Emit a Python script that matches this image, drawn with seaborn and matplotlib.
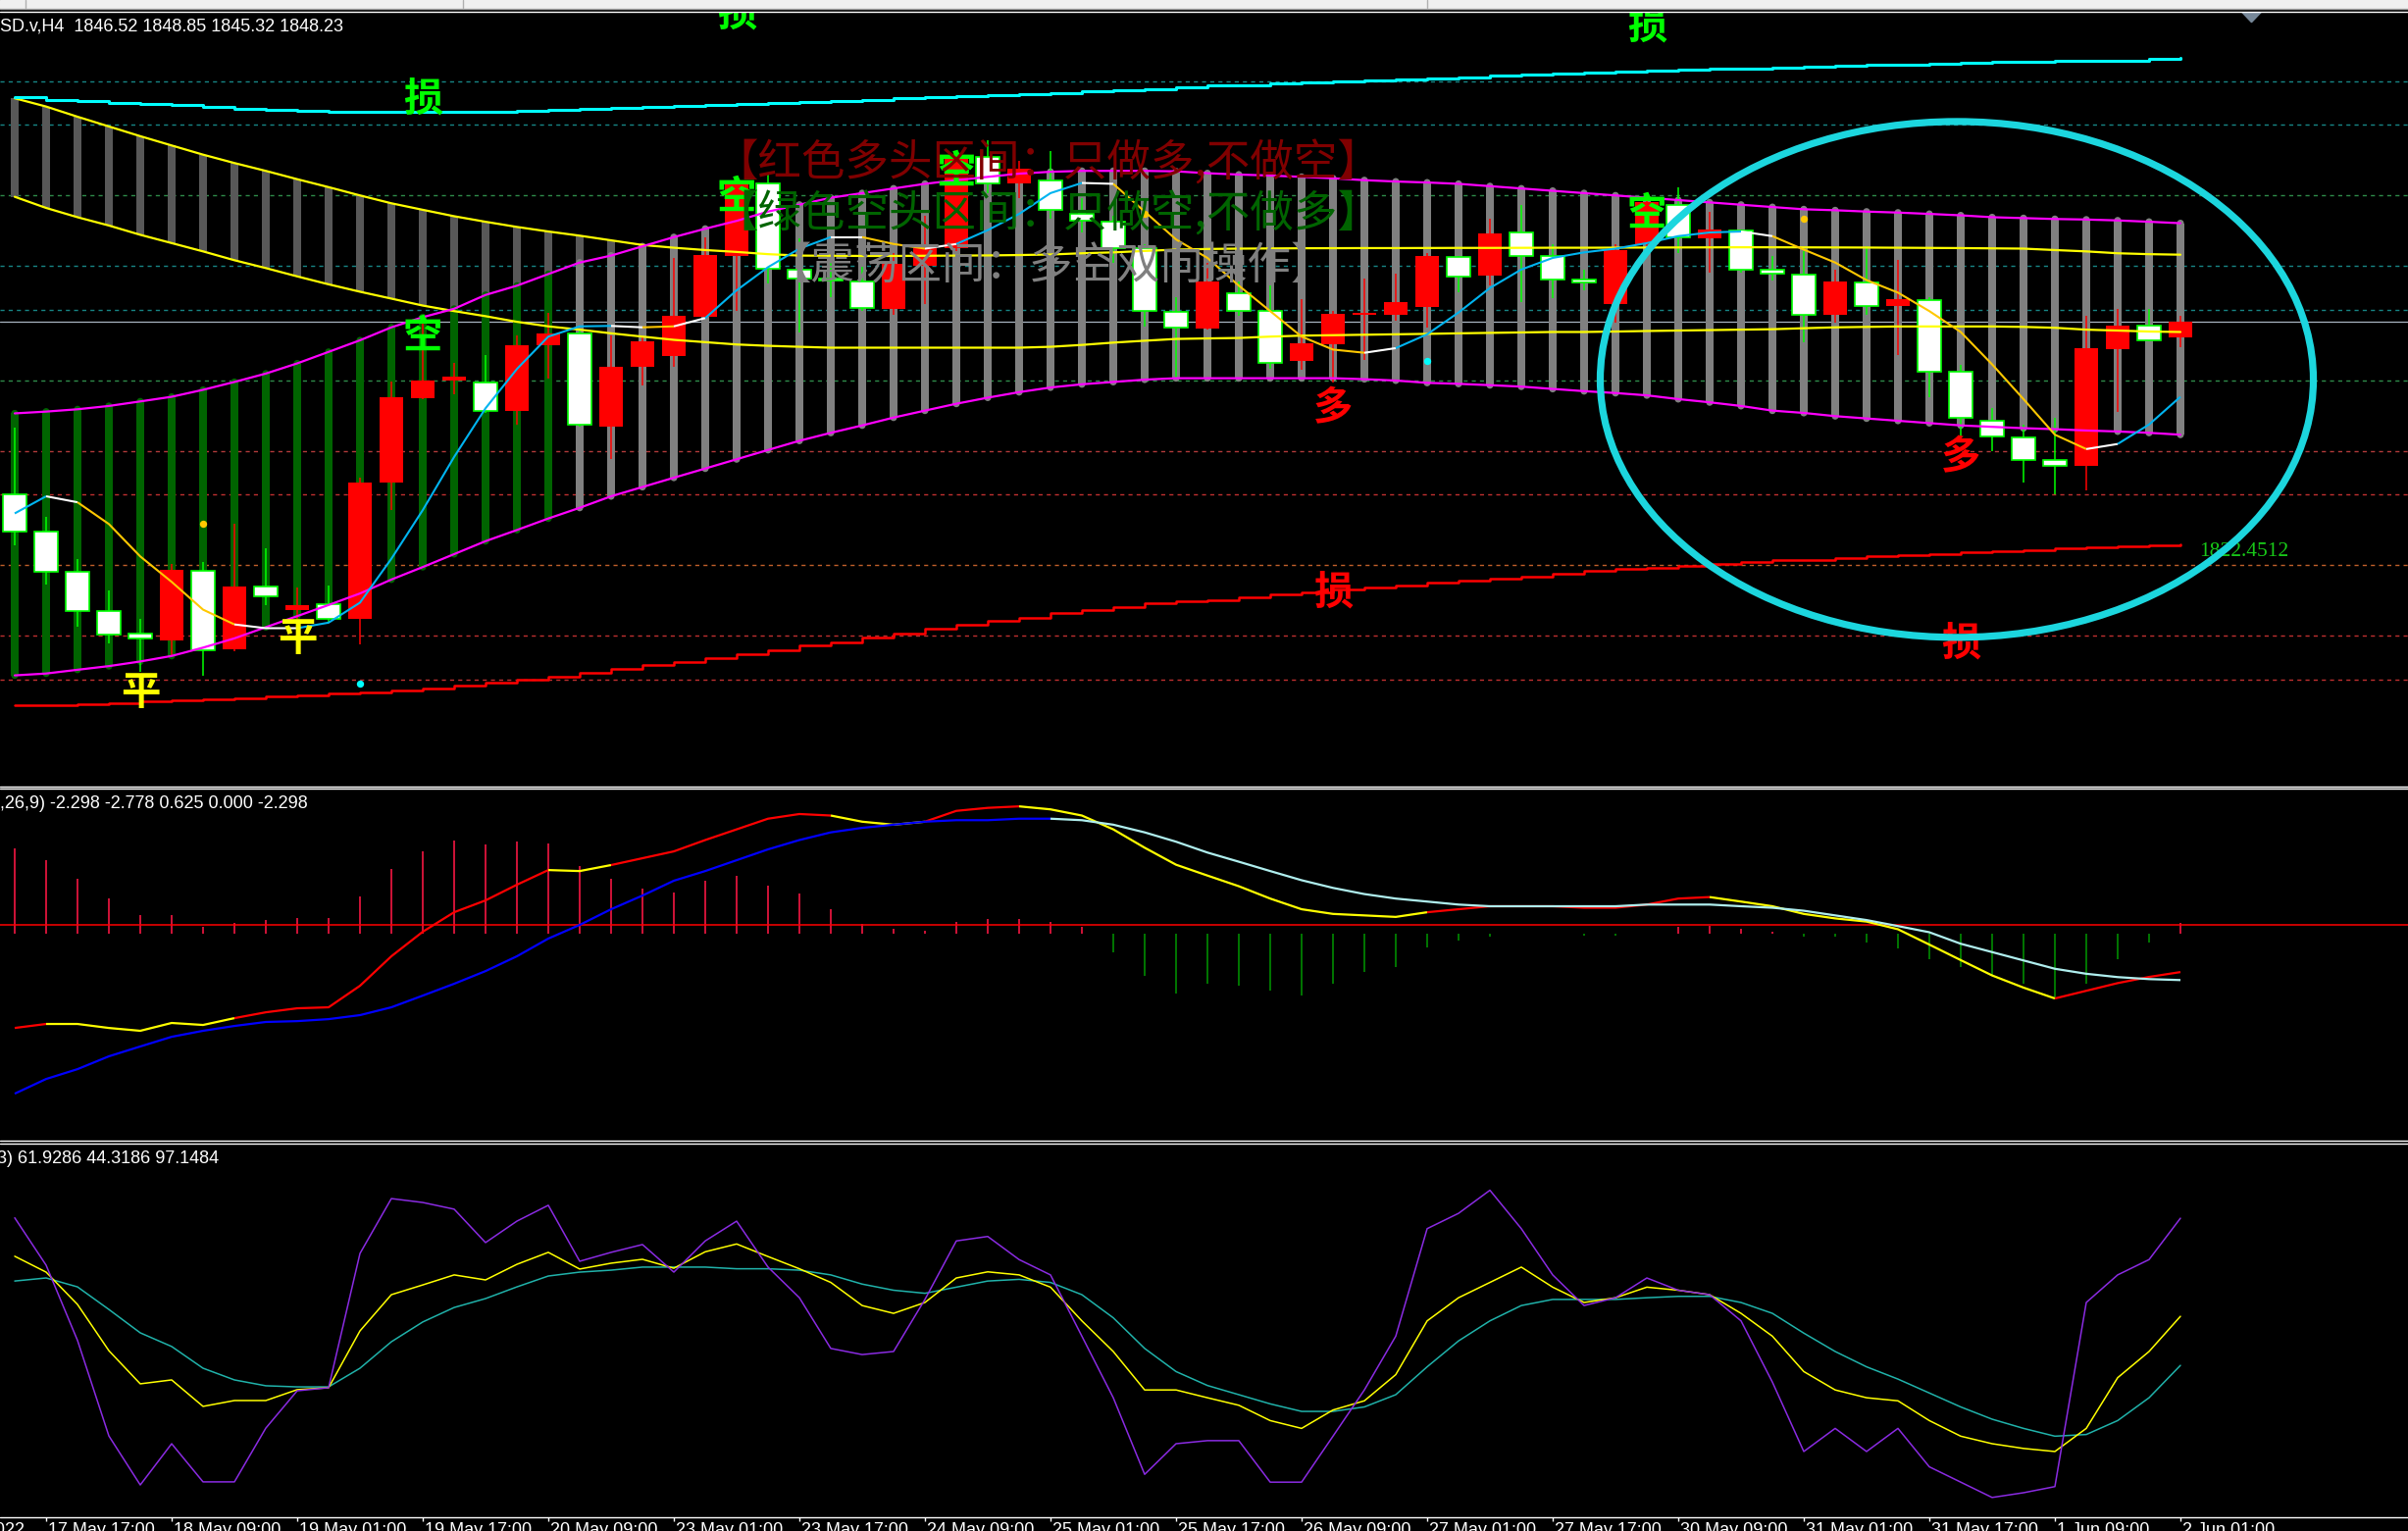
import numpy as np
import matplotlib.pyplot as plt
import matplotlib.patches as mpatches
from matplotlib.lines import Line2D
import seaborn as sns

sns.set_theme(style="dark")
plt.rcParams['font.family'] = ['Noto Sans CJK SC', 'DejaVu Sans']
plt.rcParams['axes.unicode_minus'] = False

W, H = 2455, 1561
LATIN = 'Liberation Sans'

# ---------------- price data (XAUUSD H4) ----------------
opens = np.array([
    1828.93, 1824.68, 1820.22, 1815.86, 1813.32, 1812.49, 1820.27, 1811.56, 1818.56, 1815.97,
    1816.59, 1814.93, 1830.18, 1839.67, 1841.59, 1841.43, 1838.27, 1845.63, 1846.88, 1836.45,
    1843.14, 1844.44, 1848.74, 1855.64, 1863.68, 1854.08, 1853.10, 1852.74, 1849.68, 1854.50,
    1856.42, 1866.69, 1863.78, 1864.09, 1860.31, 1859.43, 1856.42, 1849.31, 1847.50, 1851.39,
    1849.42, 1843.87, 1845.68, 1849.05, 1849.05, 1849.83, 1855.54, 1853.36, 1858.18, 1855.64,
    1853.00, 1850.25, 1856.94, 1861.34, 1857.61, 1858.44, 1854.08, 1853.56, 1848.95, 1852.68,
    1849.94, 1850.61, 1842.67, 1837.18, 1835.31, 1832.77, 1832.04, 1845.11, 1847.76, 1846.52])
highs = np.array([
    1836.35, 1826.34, 1821.67, 1818.15, 1814.93, 1821.05, 1821.26, 1825.56, 1822.86, 1818.40,
    1818.72, 1830.75, 1841.53, 1848.90, 1843.61, 1844.49, 1846.67, 1849.26, 1847.34, 1846.67,
    1846.56, 1855.38, 1857.71, 1864.46, 1864.72, 1857.56, 1855.00, 1854.34, 1855.90, 1860.05,
    1867.05, 1868.60, 1866.27, 1867.31, 1862.12, 1860.05, 1856.94, 1850.97, 1854.86, 1852.79,
    1852.27, 1850.71, 1849.42, 1853.05, 1853.57, 1855.90, 1855.64, 1859.79, 1861.34, 1856.94,
    1854.08, 1856.94, 1862.64, 1863.26, 1860.57, 1858.60, 1855.64, 1856.16, 1854.08, 1856.68,
    1855.12, 1850.97, 1843.35, 1838.53, 1836.71, 1837.49, 1848.90, 1849.68, 1849.68, 1848.85])
lows = np.array([
    1823.23, 1818.82, 1814.00, 1812.23, 1808.97, 1810.78, 1808.60, 1811.30, 1816.49, 1814.93,
    1814.51, 1812.08, 1827.12, 1839.56, 1840.08, 1838.01, 1836.71, 1841.90, 1836.45, 1832.82,
    1841.12, 1843.19, 1848.64, 1849.42, 1852.53, 1846.98, 1851.00, 1849.42, 1849.05, 1850.19,
    1856.16, 1862.64, 1862.12, 1859.79, 1858.23, 1854.86, 1847.71, 1841.90, 1847.34, 1848.90,
    1842.93, 1842.83, 1841.38, 1843.97, 1848.38, 1847.60, 1851.49, 1852.27, 1850.45, 1850.82,
    1851.75, 1848.12, 1856.68, 1855.90, 1853.72, 1853.72, 1852.89, 1845.94, 1848.12, 1849.00,
    1844.49, 1839.82, 1835.26, 1833.70, 1830.23, 1828.93, 1829.35, 1838.16, 1846.05, 1845.32])
closes = np.array([
    1824.68, 1820.22, 1815.81, 1813.22, 1812.75, 1820.38, 1811.46, 1818.56, 1817.42, 1816.49,
    1814.88, 1830.23, 1839.77, 1841.64, 1842.05, 1838.27, 1845.58, 1846.93, 1836.71, 1843.19,
    1846.04, 1848.90, 1855.69, 1863.78, 1854.19, 1853.05, 1852.90, 1849.78, 1854.71, 1856.42,
    1866.53, 1863.68, 1865.39, 1860.72, 1859.53, 1856.52, 1849.42, 1847.60, 1852.74, 1849.42,
    1843.66, 1845.84, 1849.11, 1849.26, 1850.45, 1855.59, 1853.31, 1858.13, 1855.64, 1853.00,
    1852.58, 1856.26, 1861.60, 1857.71, 1858.60, 1854.08, 1853.62, 1849.00, 1852.74, 1849.94,
    1850.71, 1842.67, 1837.49, 1835.41, 1832.77, 1832.04, 1845.22, 1847.76, 1846.15, 1848.23])

# envelope band (magenta) and its pillars
band_hi = np.array([
    1837.96, 1838.16, 1838.42, 1838.79, 1839.30, 1839.82, 1840.60, 1841.48, 1842.42, 1843.56,
    1844.85, 1846.15, 1847.60, 1848.74, 1849.68, 1851.23, 1852.27, 1853.57, 1854.86, 1855.64,
    1856.68, 1857.71, 1858.65, 1859.53, 1860.57, 1861.34, 1862.12, 1862.64, 1863.16, 1863.68,
    1864.09, 1864.46, 1864.82, 1865.03, 1865.13, 1865.13, 1865.13, 1865.08, 1864.87, 1864.72,
    1864.61, 1864.46, 1864.30, 1864.09, 1863.94, 1863.83, 1863.68, 1863.42, 1863.16, 1862.90,
    1862.64, 1862.38, 1862.12, 1861.86, 1861.60, 1861.34, 1861.08, 1860.83, 1860.72, 1860.57,
    1860.46, 1860.31, 1860.15, 1859.94, 1859.84, 1859.74, 1859.68, 1859.58, 1859.43, 1859.27])
band_lo = np.array([
    1808.60, 1808.81, 1809.23, 1809.64, 1810.16, 1810.78, 1811.71, 1812.75, 1814.00, 1815.24,
    1816.49, 1817.78, 1819.34, 1820.74, 1822.19, 1823.64, 1824.89, 1826.18, 1827.38, 1828.67,
    1829.71, 1830.75, 1831.78, 1832.82, 1833.86, 1834.89, 1835.78, 1836.61, 1837.49, 1838.27,
    1839.04, 1839.72, 1840.34, 1840.86, 1841.22, 1841.48, 1841.74, 1841.90, 1841.90, 1841.90,
    1841.90, 1841.90, 1841.90, 1841.79, 1841.64, 1841.38, 1841.27, 1841.12, 1840.96, 1840.70,
    1840.45, 1840.24, 1839.98, 1839.56, 1839.20, 1838.79, 1838.27, 1838.01, 1837.65, 1837.39,
    1837.13, 1836.87, 1836.61, 1836.45, 1836.30, 1836.19, 1836.04, 1835.93, 1835.78, 1835.57])
pillar_state = "G" * 18 + "N" * 52   # G = green zone, N = neutral (grey)

# two long moving averages (yellow)
ma_long1 = np.array([
    1873.27, 1872.34, 1871.20, 1870.11, 1869.02, 1867.98, 1866.95, 1866.01, 1865.13, 1864.20,
    1863.31, 1862.38, 1861.50, 1860.77, 1860.05, 1859.43, 1858.85, 1858.34, 1857.87, 1857.35,
    1856.83, 1856.52, 1856.26, 1856.05, 1855.80, 1855.64, 1855.62, 1855.60, 1855.60, 1855.62,
    1855.64, 1855.66, 1855.70, 1855.76, 1855.90, 1856.00, 1856.16, 1856.31, 1856.38, 1856.42,
    1856.44, 1856.46, 1856.47, 1856.48, 1856.48, 1856.49, 1856.50, 1856.50, 1856.51, 1856.52,
    1856.52, 1856.53, 1856.54, 1856.55, 1856.56, 1856.57, 1856.57, 1856.56, 1856.55, 1856.54,
    1856.52, 1856.50, 1856.48, 1856.45, 1856.42, 1856.26, 1856.11, 1855.90, 1855.80, 1855.74])
ma_long2 = np.array([
    1862.23, 1860.98, 1859.94, 1859.01, 1857.97, 1857.04, 1856.11, 1855.12, 1854.24, 1853.31,
    1852.42, 1851.59, 1850.82, 1850.04, 1849.42, 1848.85, 1848.22, 1847.71, 1847.34, 1846.93,
    1846.56, 1846.20, 1845.94, 1845.68, 1845.53, 1845.42, 1845.32, 1845.32, 1845.32, 1845.32,
    1845.32, 1845.32, 1845.32, 1845.42, 1845.63, 1845.89, 1846.10, 1846.30, 1846.36, 1846.41,
    1846.56, 1846.67, 1846.72, 1846.77, 1846.82, 1846.87, 1846.93, 1846.98, 1847.03, 1847.08,
    1847.08, 1847.13, 1847.19, 1847.24, 1847.29, 1847.34, 1847.39, 1847.50, 1847.60, 1847.65,
    1847.70, 1847.70, 1847.70, 1847.70, 1847.65, 1847.55, 1847.34, 1847.24, 1847.13, 1847.08])

# short moving average, coloured by state (U up, D down, F flat)
ma_short = np.array([
    1826.75, 1828.67, 1828.00, 1825.56, 1821.93, 1819.08, 1815.97, 1814.31, 1813.89, 1813.89,
    1814.51, 1816.75, 1821.67, 1827.12, 1833.08, 1838.53, 1842.93, 1846.56, 1847.71, 1847.76,
    1847.60, 1847.71, 1848.64, 1851.75, 1854.34, 1856.42, 1857.71, 1857.71, 1856.94, 1856.42,
    1856.94, 1858.49, 1860.31, 1862.64, 1863.78, 1863.68, 1860.57, 1857.45, 1855.38, 1852.27,
    1849.42, 1846.56, 1845.11, 1844.75, 1845.27, 1846.82, 1849.26, 1852.01, 1854.08, 1855.38,
    1856.00, 1856.42, 1857.04, 1857.82, 1858.23, 1858.34, 1857.82, 1856.31, 1854.86, 1852.89,
    1851.49, 1849.42, 1847.08, 1843.45, 1839.56, 1835.57, 1833.96, 1834.53, 1836.71, 1839.82])
ma_short_state = ("U" "F" "DDDDD" "FF" "UUUUUUUUUU" "F" "D" "F" "UUUU" "F" "DD" "F" "UUUU" "F"
                  "DDDDDDDD" "F" "UUUUUUUUUUU" "F" "DDDDDDDDDD" "F" "UU")

# stop lines (cyan top, red bottom)
cyan_line = np.array([
    1873.38, 1873.12, 1872.96, 1872.75, 1872.65, 1872.49, 1872.29, 1872.08, 1871.98, 1871.82,
    1871.77, 1871.72, 1871.72, 1871.72, 1871.72, 1871.72, 1871.87, 1871.98, 1872.08, 1872.18,
    1872.29, 1872.39, 1872.49, 1872.60, 1872.75, 1872.86, 1872.96, 1873.12, 1873.27, 1873.38,
    1873.53, 1873.63, 1873.74, 1873.89, 1874.05, 1874.15, 1874.31, 1874.46, 1874.67, 1874.77,
    1874.93, 1875.09, 1875.19, 1875.30, 1875.40, 1875.50, 1875.61, 1875.81, 1875.92, 1876.02,
    1876.12, 1876.23, 1876.33, 1876.43, 1876.54, 1876.64, 1876.75, 1876.85, 1876.96, 1877.01,
    1877.06, 1877.16, 1877.27, 1877.32, 1877.37, 1877.42, 1877.47, 1877.52, 1877.63, 1877.75])
red_line = np.array([
    1805.21, 1805.26, 1805.34, 1805.49, 1805.65, 1805.78, 1805.91, 1806.01, 1806.22, 1806.40,
    1806.58, 1806.73, 1806.92, 1807.15, 1807.46, 1807.77, 1808.14, 1808.50, 1808.86, 1809.38,
    1809.75, 1810.11, 1810.52, 1810.94, 1811.41, 1811.92, 1812.34, 1812.86, 1813.32, 1813.79,
    1814.25, 1814.67, 1815.08, 1815.55, 1815.91, 1816.28, 1816.64, 1816.95, 1817.06, 1817.37,
    1817.63, 1817.94, 1818.20, 1818.46, 1818.72, 1818.97, 1819.18, 1819.44, 1819.70, 1820.01,
    1820.27, 1820.53, 1820.69, 1820.89, 1821.10, 1821.31, 1821.52, 1821.57, 1821.72, 1821.93,
    1822.09, 1822.24, 1822.45, 1822.55, 1822.66, 1822.81, 1822.92, 1823.07, 1823.18, 1823.33])
stop_price = 1822.4512

# horizontal dashed levels
level_prices = [1875.20, 1870.32, 1862.41, 1854.49, 1849.55, 1841.64,
                1833.72, 1828.89, 1820.98, 1813.07, 1808.12]
level_colors = ['#178585', '#178585', '#2E8B4A', '#178585', '#178585', '#2E8B4A',
                '#B23A3A', '#C03030', '#C0602A', '#C03030', '#C03030']

# marker dots
gold_dot_bars, gold_dot_prices = [6, 36, 57], [1825.56, 1860.31, 1859.79]
cyan_dot_bars, cyan_dot_prices = [11, 45], [1807.67, 1843.87]

# signal characters
sig_text = ['空', '空', '空', '空', '多', '多', '损', '损', '损', '损', '损', '平', '平']
sig_bars = [13, 23, 30, 52, 42, 62, 13, 23, 52, 42, 62, 4, 9]
sig_prices = [1846.58, 1862.19, 1865.04, 1860.32, 1838.45, 1832.95,
              1873.06, 1882.60, 1881.20, 1817.79, 1812.08, 1806.63, 1812.63]
sig_colors = ['#00FF00'] * 4 + ['#FF0000'] * 2 + ['#00FF00'] * 3 + ['#FF0000'] * 2 + ['#FFFF00'] * 2

legend_lines = ['【红色多头区间：只做多,不做空】', '【绿色空头区间：只做空,不做多】', '【震荡区间：多空双向操作】']
legend_colors = ['#800000', '#006400', '#808080']

# hand-drawn ellipse (bar units / price units)
ell_center = (61.875, 1841.76)
ell_width, ell_height = 22.72, 57.8

# ---------------- MACD ----------------
macd_dif = np.array([
    -5.65, -5.41, -5.41, -5.65, -5.82, -5.35, -5.47, -5.06, -4.71, -4.47,
    -4.41, -3.12, -1.35, 0.12, 1.29, 2.00, 2.94, 3.82, 3.76, 4.12,
    4.53, 4.94, 5.62, 6.26, 6.90, 7.18, 7.09, 6.72, 6.54, 6.72,
    7.37, 7.55, 7.64, 7.46, 7.09, 6.26, 5.16, 4.14, 3.49, 2.85,
    2.11, 1.47, 1.19, 1.10, 1.01, 1.29, 1.47, 1.65, 1.65, 1.65,
    1.56, 1.56, 1.75, 2.11, 2.20, 1.93, 1.65, 1.19, 0.92, 0.73,
    0.27, -0.65, -1.58, -2.50, -3.23, -3.88, -3.42, -2.96, -2.59, -2.298])
macd_dea = np.array([
    -9.59, -8.71, -8.12, -7.35, -6.76, -6.18, -5.82, -5.53, -5.29, -5.24,
    -5.12, -4.88, -4.41, -3.71, -3.00, -2.24, -1.35, -0.29, 0.53, 1.47,
    2.29, 3.18, 3.76, 4.41, 5.06, 5.62, 6.08, 6.35, 6.54, 6.72,
    6.81, 6.81, 6.90, 6.90, 6.81, 6.54, 6.08, 5.52, 4.87, 4.32,
    3.76, 3.21, 2.75, 2.38, 2.11, 1.93, 1.75, 1.65, 1.65, 1.65,
    1.65, 1.65, 1.75, 1.75, 1.75, 1.65, 1.56, 1.38, 1.10, 0.82,
    0.46, 0.09, -0.60, -1.10, -1.60, -2.10, -2.40, -2.60, -2.72, -2.778])
macd_hist = np.array([
    5.12, 4.43, 3.29, 2.12, 1.14, 1.14, 0.41, 0.65, 0.84, 0.94,
    0.94, 2.24, 3.88, 4.96, 5.59, 5.35, 5.53, 5.41, 4.04, 3.29,
    2.71, 2.47, 3.20, 3.50, 2.90, 2.40, 1.50, 0.60, 0.30, 0.20,
    0.70, 0.90, 0.90, 0.70, 0.40, -1.10, -2.50, -3.60, -3.00, -3.10,
    -3.40, -3.70, -3.00, -2.30, -2.00, -0.80, -0.40, -0.20, 0.00, 0.00,
    -0.10, -0.10, 0.00, 0.40, 0.50, 0.30, 0.10, -0.20, -0.20, -0.50,
    -0.90, -1.50, -2.00, -2.50, -3.00, -3.90, -3.00, -1.50, -0.50, 0.625])
macd_level = 0.53
dif_state = ("R" "YYYYYY" "RRRRRRRRRR" "YY" "RRRRRRR" "YYY" "RRR" "YYYYYYYYYYYYY"
             "RRRRRRRRR" "YYYYYYYYYYY" "RRRR")
dea_state = "B" * 33 + "C" * 36

# ---------------- KDJ ----------------
kdj_k = np.array([
    83.5, 77.8, 66.2, 49.6, 37.7, 39.1, 29.6, 31.7, 31.7, 35.6,
    36.3, 56.7, 69.7, 73.2, 76.8, 75.0, 80.6, 84.9, 78.9, 81.0,
    82.4, 79.2, 85.1, 87.9, 83.4, 79.0, 74.1, 65.8, 63.0, 66.9,
    75.7, 77.9, 76.8, 72.4, 60.3, 49.3, 35.5, 35.5, 32.7, 30.0,
    24.5, 21.7, 28.3, 31.6, 41.0, 60.3, 68.6, 74.1, 79.6, 72.4,
    66.9, 68.6, 72.4, 71.3, 69.7, 63.0, 54.8, 42.1, 35.5, 32.7,
    31.6, 24.5, 18.9, 16.2, 14.5, 13.4, 21.7, 39.9, 49.3, 61.9286])
kdj_d = np.array([
    74.6, 75.7, 72.5, 64.4, 56.0, 51.1, 43.3, 39.1, 37.0, 36.6,
    36.6, 43.3, 52.8, 59.9, 65.1, 68.3, 72.5, 76.4, 77.8, 78.5,
    79.6, 79.6, 79.6, 79.0, 79.0, 78.5, 76.8, 73.5, 71.3, 70.2,
    72.4, 74.6, 75.2, 74.1, 69.7, 61.4, 50.4, 42.1, 37.1, 33.8,
    30.5, 27.8, 27.8, 29.4, 33.8, 43.8, 53.1, 60.3, 65.8, 68.0,
    68.0, 68.0, 68.6, 69.1, 69.1, 66.9, 63.0, 55.9, 49.3, 43.8,
    39.4, 34.4, 29.4, 25.0, 21.7, 18.9, 19.5, 24.5, 32.7, 44.3186])
kdj_j = np.array([
    97.3, 80.3, 53.3, 19.0, 1.4, 16.2, 2.5, 2.5, 21.8, 35.2,
    36.3, 84.5, 104.2, 102.8, 100.4, 88.4, 96.1, 101.8, 81.7, 84.9,
    87.7, 77.8, 89.0, 96.1, 79.6, 68.6, 50.4, 48.2, 49.3, 68.0,
    89.0, 90.6, 82.3, 76.8, 54.8, 32.7, 5.2, 16.2, 17.3, 17.3,
    2.4, 2.4, 18.9, 35.5, 54.8, 93.4, 98.9, 107.2, 93.4, 76.8,
    65.8, 68.6, 75.7, 71.3, 69.7, 60.3, 38.3, 13.4, 21.7, 13.4,
    21.7, 7.9, 2.4, -3.1, -1.4, 0.8, 66.9, 76.8, 82.3, 97.1484])

# ---------------- time axis ----------------
tick_bars = list(range(1, 70, 4))
time_labels = ['17 May 17:00', '18 May 09:00', '19 May 01:00', '19 May 17:00', '20 May 09:00',
               '23 May 01:00', '23 May 17:00', '24 May 09:00', '25 May 01:00', '25 May 17:00',
               '26 May 09:00', '27 May 01:00', '27 May 17:00', '30 May 09:00', '31 May 01:00',
               '31 May 17:00', '1 Jun 09:00', '2 Jun 01:00']
first_label = '17 May 2022'

main_header = 'SD.v,H4  1846.52 1848.85 1845.32 1848.23'
macd_header = ',26,9) -2.298 -2.778 0.625 0.000 -2.298'
kdj_header = '3) 61.9286 44.3186 97.1484'

bars = np.arange(len(closes))

# ---------------- figure ----------------
fig = plt.figure(figsize=(W / 100, H / 100), dpi=100, facecolor='black')


def fy(p):
    return 1 - p / H


def panel(top, bottom, ylo, yhi):
    a = fig.add_axes([0, fy(bottom), 1, (bottom - top) / H])
    a.set_xlim(-15 / 32, (W - 15) / 32)
    a.set_ylim(ylo, yhi)
    a.axis('off')
    return a


def seg_line(a, y, states, cmap, lw, z):
    start = 0
    n = len(states)
    for k in range(1, n + 1):
        if k == n or states[k] != states[start]:
            a.plot(bars[start:k + 1], y[start:k + 1], color=cmap[states[start]], lw=lw,
                   zorder=z, solid_capstyle='butt')
            start = k


ax = panel(12, 802, 1796.14, 1882.96)
ax_macd = panel(806, 1161, -12.29, 8.59)
ax_kdj = panel(1166, 1543, -8.8, 123.94)
ax_time = panel(1546.7, 1561, 0, 1)

# levels and bid line
for lv, c in zip(level_prices, level_colors):
    ax.axhline(lv, color=c, lw=1.0, ls=(0, (3, 3)), zorder=1)
ax.axhline(closes[-1], color='#A8B4C0', lw=0.9, zorder=1.2)

# pillars: dark ones between the long MAs, coloured ones across the band
PW = 0.23
ax.bar(bars, ma_long1 - ma_long2, bottom=ma_long2, width=PW, color='#585858', lw=0, zorder=2)
pcols = ['#006400' if s == 'G' else '#808080' for s in pillar_state]
ax.bar(bars, band_hi - band_lo, bottom=band_lo, width=PW, color=pcols, lw=0, zorder=2.5)
ax.scatter(bars, band_hi, s=26, color=pcols, lw=0, zorder=2.5, marker='o')
ax.scatter(bars, band_lo, s=26, color=pcols, lw=0, zorder=2.5, marker='o')

# candles
up = closes >= opens
ax.vlines(bars[up], lows[up], highs[up], color='#FF0000', lw=1.1, zorder=4)
ax.vlines(bars[~up], lows[~up], highs[~up], color='#00FF00', lw=1.1, zorder=4)
ax.bar(bars[up], (closes - opens)[up], bottom=opens[up], width=0.76, color='#FF0000', lw=0, zorder=5)
ax.bar(bars[~up], (opens - closes)[~up], bottom=closes[~up], width=0.72, color='white',
       edgecolor='#00FF00', lw=1.2, zorder=5)

# indicator lines
for ys, c, lw in [(ma_long1, '#FFFF00', 1.6), (ma_long2, '#FFFF00', 1.6),
                  (band_hi, '#FF00FF', 1.6), (band_lo, '#FF00FF', 1.6)]:
    sns.lineplot(x=bars, y=ys, ax=ax, color=c, lw=lw, zorder=6, estimator=None, legend=False)
ax.plot(bars, cyan_line, color='#00FFFF', lw=2.2, drawstyle='steps-post', zorder=6)
ax.plot(bars, red_line, color='#FF0000', lw=1.8, drawstyle='steps-post', zorder=6)
seg_line(ax, ma_short, ma_short_state, {'U': '#00B4F0', 'D': '#FFC800', 'F': 'white'}, 1.5, 7)

ax.scatter(gold_dot_bars, gold_dot_prices, s=28, color='#FFC800', zorder=8, lw=0)
ax.scatter(cyan_dot_bars, cyan_dot_prices, s=28, color='#00FFFF', zorder=8, lw=0)

for t, b, p, c in zip(sig_text, sig_bars, sig_prices, sig_colors):
    ax.text(b, p, t, color=c, fontsize=29, ha='center', va='center', zorder=9,
            clip_on=True, fontweight='bold')

ax.text(69.6, stop_price, f'{stop_price:.4f}', color='#18C818', fontsize=15.5,
        family='Liberation Serif', ha='left', va='center', zorder=9)

ax.add_patch(mpatches.Ellipse(ell_center, ell_width, ell_height, fill=False,
                              ec='#1CD6DE', lw=5.2, zorder=11))

for k, (t, c) in enumerate(zip(legend_lines, legend_colors)):
    x0 = 728 if k < 2 else 782
    fig.text(x0 / W, fy([166, 218, 272][k]), t, color=c, fontsize=32, va='center', ha='left',
             zorder=10)

# MACD panel
ax_macd.vlines(bars, 0, macd_hist, colors=['#E0143C' if h > 0 else '#008000' for h in macd_hist],
               lw=1.3, zorder=2)
ax_macd.axhline(macd_level, color='#FF0000', lw=1.1, zorder=3)
seg_line(ax_macd, macd_dif, dif_state, {'R': '#FF0000', 'Y': '#FFFF00'}, 1.6, 4)
seg_line(ax_macd, macd_dea, dea_state, {'B': '#0000FF', 'C': '#AFEEEE'}, 1.6, 4)

# KDJ panel
for ys, c in [(kdj_d, '#20B2AA'), (kdj_k, '#FFFF00'), (kdj_j, '#8A2BE2')]:
    sns.lineplot(x=bars, y=ys, ax=ax_kdj, color=c, lw=1.1, estimator=None, legend=False)

# time axis
ax_time.vlines(tick_bars, 0.72, 1.0, color='white', lw=1)
for b, lab in zip(tick_bars, time_labels):
    ax_time.text(b + 0.06, 0.62, lab, color='white', fontsize=13, family=LATIN,
                 ha='left', va='top', clip_on=False)
ax_time.text(0.3, 0.62, first_label, color='white', fontsize=13, family=LATIN,
             ha='right', va='top', clip_on=False)

# headers
fig.text(0.5 / W, fy(27), main_header, color='white', fontsize=13, family=LATIN, va='center')
fig.text(0.5 / W, fy(820), macd_header, color='white', fontsize=13, family=LATIN, va='center')
fig.text(-3 / W, fy(1182), kdj_header, color='white', fontsize=13, family=LATIN, va='center')

# window chrome: toolbar strip, separators, shift marker
fig.add_artist(mpatches.Rectangle((0, fy(8)), 1, 8 / H, transform=fig.transFigure,
                                  color='#F0F0F0', zorder=0))
for yy, c in [(8.6, '#A0A0A0'), (11.5, 'white'), (801.7, 'white'), (804.3, 'white'),
              (1163.3, 'white'), (1165.7, 'white'), (1546.7, 'white')]:
    fig.add_artist(Line2D([0, 1], [fy(yy), fy(yy)], color=c, lw=1.0))
for xx in [26, 472, 1455]:
    fig.add_artist(Line2D([xx / W, xx / W], [fy(0), fy(8)], color='#B0B0B0', lw=1.0))
fig.add_artist(mpatches.Polygon([[2286 / W, fy(12.7)], [2305 / W, fy(12.7)], [2295.5 / W, fy(22.7)]],
                                closed=True, transform=fig.transFigure, color='#778899'))

fig.savefig('out.png', dpi=100, facecolor='black')
